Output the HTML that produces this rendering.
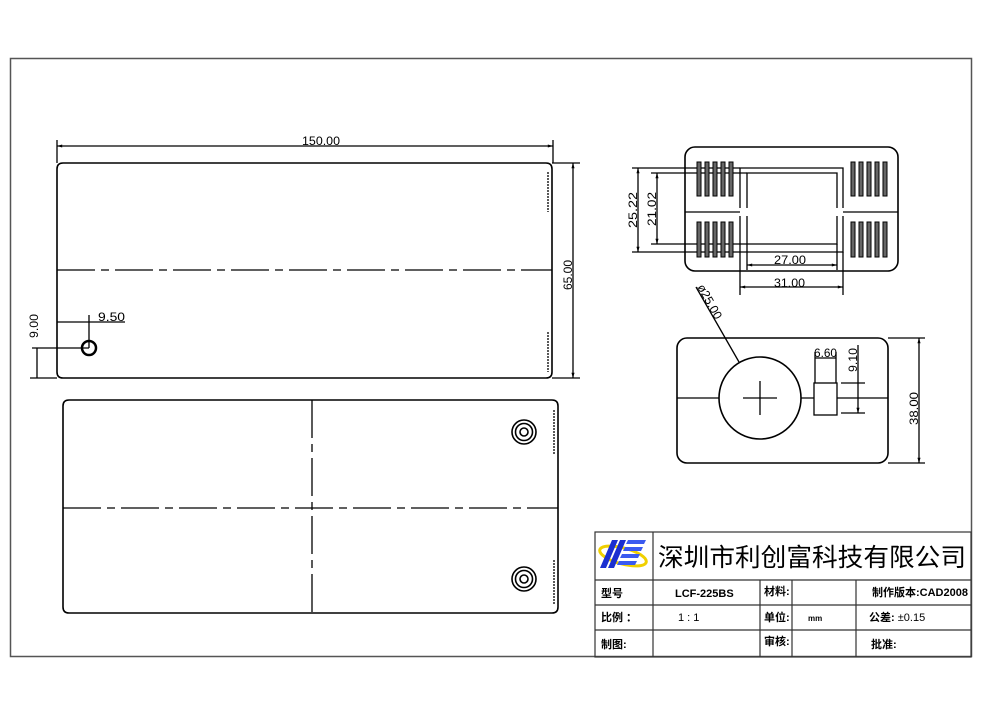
<!DOCTYPE html>
<html><head><meta charset="utf-8"><style>
html,body{margin:0;padding:0;background:#fff;}
svg{display:block;}
text{font-family:"Liberation Sans","Noto Sans CJK SC",sans-serif;fill:#000;}
</style></head><body>
<svg width="1000" height="711" viewBox="0 0 1000 711" xmlns="http://www.w3.org/2000/svg">
<defs>
<marker id="a" viewBox="0 0 10 10" refX="10" refY="5" markerWidth="6" markerHeight="4" orient="auto-start-reverse"><path d="M0,2 L10,5 L0,8z" fill="#000"/></marker>
</defs>
<rect x="10.5" y="58.5" width="961" height="598" fill="none" stroke="#555" stroke-width="1.5"/>
<g stroke="#000" fill="none" stroke-width="1.3">
<path d="M63,163 H546 Q552,163 552,169 V372 Q552,378 546,378 H63 Q57,378 57,372 V169 Q57,163 63,163z" stroke-width="1.6"/>
<path d="M548,172 V212 M548,332 V372" stroke-dasharray="2 1"/>
<path d="M57,270 H552" stroke-dasharray="38 6 8 6"/>
<path d="M57,140 V163 M553,140 V163"/>
<path d="M57,146 H553" marker-start="url(#a)" marker-end="url(#a)"/>
<path d="M552,163 H580 M552,378 H580"/>
<path d="M573,163 V378" marker-start="url(#a)" marker-end="url(#a)"/>
<circle cx="89" cy="348" r="7" stroke-width="2.5"/>
<path d="M57,322 H89 M89,315 V348 M89,322 H125"/>
<path d="M32,348 H89 M30,378 H57 M37,348 V378"/>
<path d="M69,400 H552 Q558,400 558,406 V607 Q558,613 552,613 H69 Q63,613 63,607 V406 Q63,400 69,400z" stroke-width="1.6"/>
<path d="M554,410 V455 M554,560 V605" stroke-dasharray="2 1"/>
<path d="M63,508 H558" stroke-dasharray="38 6 8 6"/>
<path d="M312,400 V613" stroke-dasharray="38 6 8 6"/>
<circle cx="524" cy="432" r="12" stroke-width="1.6"/><circle cx="524" cy="432" r="8.5" stroke-width="1.6"/><circle cx="524" cy="432" r="4" stroke-width="1.6"/>
<circle cx="524" cy="579" r="12" stroke-width="1.6"/><circle cx="524" cy="579" r="8.5" stroke-width="1.6"/><circle cx="524" cy="579" r="4" stroke-width="1.6"/>
<rect x="685" y="147" width="213" height="124" rx="10" stroke-width="1.6"/>
<path d="M685,212 H740 M843,212 H898"/>
<path d="M740,208 V168 H843 V208 M740,216 V252 H843 V216"/>
<path d="M747,208 V173 H837 V208 M747,216 V244 H837 V216"/>
<path d="M632,168 H740 M651,173 H747 M632,252 H740 M651,244 H747"/>
<path d="M638,168 V252" marker-start="url(#a)" marker-end="url(#a)"/>
<path d="M657,173 V244" marker-start="url(#a)" marker-end="url(#a)"/>
<path d="M747,244 V270 M837,244 V270 M740,252 V295 M843,252 V295"/>
<path d="M747,265 H837" marker-start="url(#a)" marker-end="url(#a)"/>
<path d="M740,287 H843" marker-start="url(#a)" marker-end="url(#a)"/>
<rect x="677" y="338" width="211" height="125" rx="10" stroke-width="1.6"/>
<path d="M677,398 H719 M801,398 H814 M837,398 H888"/>
<circle cx="760" cy="398" r="41" stroke-width="1.6"/>
<path d="M743,398 H777 M760,381 V415"/>
<rect x="814" y="383" width="23" height="32"/>
<path d="M815,352 V383 M836,352 V383 M815,358 H836"/>
<path d="M841,383 H865 M841,413 H865"/>
<path d="M858,345 V413" marker-end="url(#a)"/>
<path d="M888,338 H925 M888,463 H925"/>
<path d="M919,338 V463" marker-start="url(#a)" marker-end="url(#a)"/>
<path d="M696,287 L739,362"/>
</g>
<g fill="#666" stroke="#000" stroke-width="1">
<rect x="697" y="162" width="4" height="34"/><rect x="705" y="162" width="4" height="34"/><rect x="713" y="162" width="4" height="34"/><rect x="721" y="162" width="4" height="34"/><rect x="729" y="162" width="4" height="34"/>
<rect x="697" y="222" width="4" height="35"/><rect x="705" y="222" width="4" height="35"/><rect x="713" y="222" width="4" height="35"/><rect x="721" y="222" width="4" height="35"/><rect x="729" y="222" width="4" height="35"/>
<rect x="851" y="162" width="4" height="34"/><rect x="859" y="162" width="4" height="34"/><rect x="867" y="162" width="4" height="34"/><rect x="875" y="162" width="4" height="34"/><rect x="883" y="162" width="4" height="34"/>
<rect x="851" y="222" width="4" height="35"/><rect x="859" y="222" width="4" height="35"/><rect x="867" y="222" width="4" height="35"/><rect x="875" y="222" width="4" height="35"/><rect x="883" y="222" width="4" height="35"/>
</g>
<g font-size="12">
<text x="302" y="145" textLength="38" lengthAdjust="spacingAndGlyphs">150.00</text>
<text transform="translate(572,290) rotate(-90)" textLength="30" lengthAdjust="spacingAndGlyphs">65.00</text>
<text x="98" y="321" textLength="27" lengthAdjust="spacingAndGlyphs">9.50</text>
<text transform="translate(38,338) rotate(-90)" textLength="24" lengthAdjust="spacingAndGlyphs">9.00</text>
<text transform="translate(637,228) rotate(-90)" textLength="36" lengthAdjust="spacingAndGlyphs">25.22</text>
<text transform="translate(656,226) rotate(-90)" textLength="34" lengthAdjust="spacingAndGlyphs">21.02</text>
<text x="774" y="264" textLength="32" lengthAdjust="spacingAndGlyphs">27.00</text>
<text x="774" y="287" textLength="31" lengthAdjust="spacingAndGlyphs">31.00</text>
<text x="814" y="357" textLength="23" lengthAdjust="spacingAndGlyphs">6.60</text>
<text transform="translate(857,372) rotate(-90)" textLength="24" lengthAdjust="spacingAndGlyphs">9.10</text>
<text transform="translate(918,425) rotate(-90)" textLength="33" lengthAdjust="spacingAndGlyphs">38.00</text>
<text transform="translate(697,287) rotate(61)" textLength="38" lengthAdjust="spacingAndGlyphs">ø25.00</text>
</g>
<g stroke="#333" fill="none" stroke-width="1.2">
<rect x="595" y="532" width="376" height="125"/>
<path d="M653,532 V657 M595,580 H971 M595,605 H971 M595,630 H971 M760,580 V657 M792,580 V657 M856,580 V657"/>
</g>
<g>
<ellipse cx="623" cy="556" rx="24" ry="8" fill="none" stroke="#f0d000" stroke-width="3" transform="rotate(15 623 556)"/>
<path d="M612,540 h6 l-12,28 h-6z M620,540 h6 l-12,28 h-6z" fill="#1a2fd0"/>
<path d="M628,540 h18 l-2,4 h-18z M625,547 h18 l-2,4 h-18z M622,554 h18 l-2,4 h-18z M619,561 h18 l-2,4 h-18z" fill="#3a5af0"/>
</g>
<text x="658" y="566" font-size="25" textLength="308" lengthAdjust="spacingAndGlyphs">深圳市利创富科技有限公司</text>
<g font-size="11" font-weight="bold">
<text x="601" y="597">型号</text>
<text x="675" y="597" font-family="Liberation Serif,serif">LCF-225BS</text>
<text x="764" y="595">材料:</text>
<text x="872" y="596">制作版本:CAD2008</text>
<text x="601" y="621">比例 ：</text>
<text x="678" y="621" font-weight="normal">1 : 1</text>
<text x="764" y="621">单位:</text>
<text x="808" y="621" font-size="8">mm</text>
<text x="869" y="621">公差: <tspan font-weight="normal">±0.15</tspan></text>
<text x="601" y="648">制图:</text>
<text x="764" y="645">审核:</text>
<text x="871" y="648">批准:</text>
</g>
</svg>
</body></html>
